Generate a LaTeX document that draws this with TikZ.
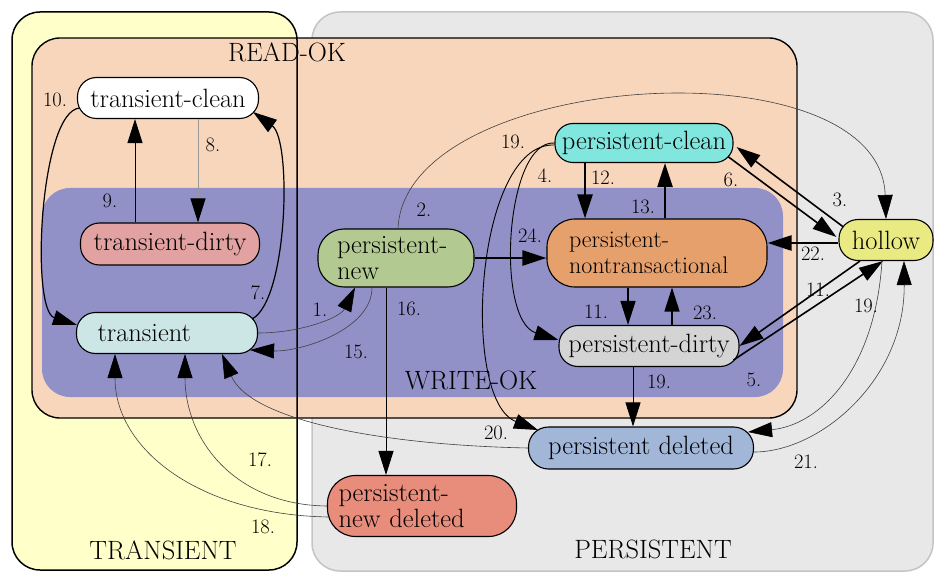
\documentclass[tikz,border=0pt]{standalone}
\usetikzlibrary{arrows.meta}

\definecolor{bgyellow}{HTML}{FFFFCA}
\definecolor{bggray}{HTML}{E8E8E8}
\definecolor{bggrayline}{HTML}{C4C4C4}
\definecolor{readok}{HTML}{F7D6BC}
\definecolor{writeok}{HTML}{9191C7}
\definecolor{ctclean}{HTML}{FFFFFF}
\definecolor{ctdirty}{HTML}{E2A2A2}
\definecolor{ctrans}{HTML}{CCE6E6}
\definecolor{cpnew}{HTML}{B2CA92}
\definecolor{cpclean}{HTML}{80E6DE}
\definecolor{cpnontx}{HTML}{E6A06C}
\definecolor{cpdirty}{HTML}{D4D4D4}
\definecolor{chollow}{HTML}{EAEA82}
\definecolor{cpdel}{HTML}{A2B6D8}
\definecolor{cpnewdel}{HTML}{E88C7C}

\tikzset{
  state/.style={draw, line width=1.1pt, inner sep=0pt,
    font=\fontsize{26.5}{26}\selectfont},
  lbl/.style={font=\fontsize{20.5}{22}\selectfont, inner sep=0pt},
  region/.style={font=\fontsize{26.5}{28}\selectfont, inner sep=0pt},
  head/.style={-{Triangle[length=24pt,width=15pt,color=black]}},
  faint/.style={head, line width=0.8pt, black!40},
  hair/.style={head, line width=0.6pt, black!75},
  plain/.style={head, line width=0.9pt, black},
  mid/.style={head, line width=1.2pt, black},
  strong/.style={head, line width=1.6pt, black},
  heavy/.style={head, line width=2.4pt, black},
}

\begin{document}
\begin{tikzpicture}[x=1pt, y=-1pt]
\useasboundingbox (0,0) rectangle (934,572);

% lifecycle areas
\draw[fill=bggray, draw=bggrayline, line width=1.5pt, rounded corners=28pt]
  (312,12) rectangle (933,571);
\fill[bgyellow, rounded corners=28pt] (12,12) rectangle (297,570);
\draw[fill=readok, line width=1.4pt, rounded corners=28pt]
  (32,38) rectangle (797,418);
\fill[writeok, rounded corners=28pt] (42,188) rectangle (783,397);
\draw[line width=1.5pt, rounded corners=28pt] (12,12) rectangle (297,570);

\node[region] (readok) at (287,52) {READ-OK};
\node[region] (writeok) at (471,380) {WRITE-OK};
\node[region] (transreg) at (163,550) {TRANSIENT};
\node[region] (persreg) at (653,549) {PERSISTENT};

% states
\node[state, fill=ctclean, minimum width=181pt, minimum height=41pt,
  rounded corners=19pt] (tc) at (168,98) {transient-clean};
\node[state, fill=ctdirty, minimum width=179pt, minimum height=42pt,
  rounded corners=19pt] (td) at (170,244) {transient-dirty};
\node[state, fill=ctrans, minimum width=181pt, minimum height=41pt,
  rounded corners=19pt, text width=139pt, align=left] (tr) at (167,333) {transient};
\node[state, fill=cpnew, minimum width=156pt, minimum height=58pt,
  rounded corners=26pt, text width=118pt, align=left] (pnew) at (396,258)
  {\mbox{persistent-}\\new};
\node[state, fill=cpclean, minimum width=178pt, minimum height=39pt,
  rounded corners=18pt] (pc) at (644,143) {persistent-clean};
\node[state, fill=cpnontx, minimum width=220pt, minimum height=68pt,
  rounded corners=28pt, text width=176pt, align=left,
  font=\fontsize{24}{26}\selectfont] (pn) at (657,253)
  {\mbox{persistent-}\\nontransactional};
\node[state, fill=cpdirty, minimum width=180pt, minimum height=41pt,
  rounded corners=19pt] (pd) at (649,346) {persistent-dirty};
\node[state, fill=chollow, minimum width=94pt, minimum height=41pt,
  rounded corners=19pt] (ho) at (886,240) {hollow};
\node[state, fill=cpdel, minimum width=225pt, minimum height=42pt,
  rounded corners=20pt] (pdel) at (641,448) {persistent deleted};
\node[state, fill=cpnewdel, minimum width=189pt, minimum height=61pt,
  rounded corners=28pt, text width=167pt, align=left] (pnd) at (422,506)
  {\mbox{persistent-}\\new deleted};

% transitions among transient states
\draw[mid] ([shift={(3,10)}]tc.west) .. controls (40,110) and (30,310)
  .. ([shift={(1,-8)}]tr.west);
\draw[plain] ([xshift=-35pt]td.north) -- ([xshift=-35pt]td.north |- tc.south);
\draw[faint] ([xshift=30pt]tc.south) -- ([xshift=30pt]tc.south |- td.north);
\draw[mid] ([shift={(-6,-14)}]tr.east) .. controls (288,300) and (292,140)
  .. ([shift={(-6,14)}]tc.east);

% transient <-> persistent-new
\draw[hair] (tr.east) .. controls (300,333) and (340,318)
  .. ([xshift=-41pt]pnew.south);
\draw[hair] ([xshift=-24pt]pnew.south) .. controls (372,330) and (300,352)
  .. ([shift={(-8,17)}]tr.east);
\draw[plain] ([xshift=-10pt]pnew.south) -- ([xshift=-10pt]pnew.south |- pnd.north);
\draw[hair] ([xshift=2pt]pnew.north) .. controls (405,70) and (880,40)
  .. (ho.north);

% back to transient
\draw[hair] (pnd.west) .. controls (235,505) and (185,440)
  .. ([xshift=18pt]tr.south);
\draw[hair] ([shift={(2,11)}]pnd.west) .. controls (200,515) and (115,450)
  .. ([xshift=-52pt]tr.south);
\draw[hair] (pdel.west) .. controls (380,445) and (250,420)
  .. ([xshift=55pt]tr.south);

% persistent states
\draw[heavy] ([xshift=-59pt]pc.south) -- ([xshift=-59pt]pc.south |- pn.north);
\draw[heavy] ([xshift=8pt]pn.north) -- ([xshift=8pt]pn.north |- pc.south);
\draw[heavy] (pnew.east) -- (pnew.east -| pn.west);
\draw[strong] ([xshift=-29pt]pn.south) -- ([xshift=-29pt]pn.south |- pd.north);
\draw[strong] ([xshift=23pt]pd.north) -- ([xshift=23pt]pd.north |- pn.south);
\draw[plain] ([xshift=-16pt]pd.south) -- ([xshift=-16pt]pd.south |- pdel.north);
\draw[plain] (pc.west) .. controls (505,140) and (495,320)
  .. ([shift={(0,-6)}]pd.west);
\draw[plain] ([shift={(0,2)}]pc.west) .. controls (475,142) and (460,400)
  .. ([shift={(10,-18)}]pdel.west);

% hollow
\draw[strong] ([shift={(5,-13)}]ho.west) -- ([shift={(3,4)}]pc.east);
\draw[strong] ([shift={(-5,14)}]pc.east) -- ([shift={(-2,-3)}]ho.west);
\draw[heavy] ([shift={(0,3)}]ho.west) -- ([shift={(0,3)}]ho.west -| pn.east);
\draw[strong] ([xshift=-26pt]ho.south) -- (pd.east);
\draw[strong] ([shift={(-6,14)}]pd.east) -- ([xshift=-3pt]ho.south);
\draw[hair] ([xshift=-4pt]ho.south) .. controls (875,370) and (820,425)
  .. ([shift={(-6,-16)}]pdel.east);
\draw[hair] ([shift={(0,4)}]pdel.east) .. controls (820,452) and (905,380)
  .. ([xshift=18pt]ho.south);

% transition numbers
\node[lbl] (n10) at (55,100) {10.};
\node[lbl] (n8) at (213,145) {8.};
\node[lbl] (n9) at (110,201) {9.};
\node[lbl] (n7) at (258,293) {7.};
\node[lbl] (n1) at (320,310) {1.};
\node[lbl] (n15) at (356,352) {15.};
\node[lbl] (n16) at (409,309) {16.};
\node[lbl] (n2) at (424,210) {2.};
\node[lbl] (n19a) at (513,142) {19.};
\node[lbl] (n4) at (545,176) {4.};
\node[lbl] (n12) at (603,178) {12.};
\node[lbl] (n13) at (643,207) {13.};
\node[lbl] (n6) at (731,180) {6.};
\node[lbl] (n3) at (840,200) {3.};
\node[lbl] (n22) at (813,254) {22.};
\node[lbl] (n24) at (530,236) {24.};
\node[lbl] (n11a) at (818,290) {11.};
\node[lbl] (n19b) at (866,306) {19.};
\node[lbl] (n11b) at (596,312) {11.};
\node[lbl] (n23) at (705,313) {23.};
\node[lbl] (n5) at (754,380) {5.};
\node[lbl] (n19c) at (659,382) {19.};
\node[lbl] (n20) at (496,433) {20.};
\node[lbl] (n21) at (806,462) {21.};
\node[lbl] (n17) at (260,460) {17.};
\node[lbl] (n18) at (263,527) {18.};
\end{tikzpicture}
\end{document}
